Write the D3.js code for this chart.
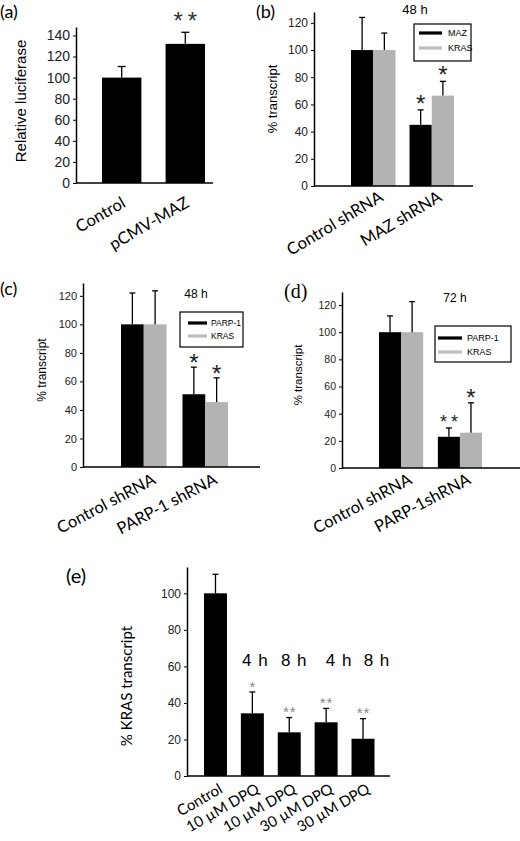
<!DOCTYPE html>
<html>
<head>
<meta charset="utf-8">
<script src="https://cdn.jsdelivr.net/npm/d3@7"></script>
<style>
body{margin:0;background:#fff;}
svg{display:block;}
</style>
</head>
<body>
<script>
// ---------------- DATA ----------------
const panelACategories = ["Control", "pCMV-MAZ"];
const panelAValues = [100, 132];
const panelAErrors = [10.5, 11];
const panelASig = ["", "**"];
const panelATicks = [0, 20, 40, 60, 80, 100, 120, 140];

const panelBCategories = ["Control shRNA", "MAZ shRNA"];
const panelBSeriesNames = ["MAZ", "KRAS"];
const panelBMAZ = [100, 45];
const panelBMAZErr = [24, 11];
const panelBMAZSig = ["", "*"];
const panelBKRAS = [100, 66.5];
const panelBKRASErr = [12.5, 10.5];
const panelBKRASSig = ["", "*"];

const panelCCategories = ["Control shRNA", "PARP-1 shRNA"];
const panelCSeriesNames = ["PARP-1", "KRAS"];
const panelCPARP = [100, 51];
const panelCPARPErr = [22, 19];
const panelCPARPSig = ["", "*"];
const panelCKRAS = [100, 45.5];
const panelCKRASErr = [23.5, 17];
const panelCKRASSig = ["", "*"];

const panelDCategories = ["Control shRNA", "PARP-1shRNA"];
const panelDSeriesNames = ["PARP-1", "KRAS"];
const panelDPARP = [100, 23];
const panelDPARPErr = [12, 6.5];
const panelDPARPSig = ["", "**"];
const panelDKRAS = [100, 26];
const panelDKRASErr = [22.5, 22];
const panelDKRASSig = ["", "*"];

const bcdTicks = [0, 20, 40, 60, 80, 100, 120];

const panelECategories = ["Control", "10 \u00b5M DPQ", "10 \u00b5M DPQ", "30 \u00b5M DPQ", "30 \u00b5M DPQ"];
const panelEValues = [100, 34.3, 23.9, 29.4, 20.4];
const panelEErrors = [10.4, 11.7, 8.1, 7.6, 11];
const panelESig = ["", "*", "**", "**", "**"];
const panelETimes = ["", "4 h", "8 h", "4 h", "8 h"];
const panelETicks = [0, 20, 40, 60, 80, 100];

// ---------------- DRAW ----------------
const svg = d3.select("body").append("svg").attr("width", 520).attr("height", 841);
const ARIAL = "'Liberation Sans', Arial, sans-serif";
const CALIBRI = "Lato, 'Open Sans', sans-serif";
const BLACK = "#000";
const GRAY = "#b3b3b3";

function drawPanel(o) {
  const g = svg.append("g");
  const y = d3.scaleLinear().domain([0, o.yMax]).range(o.yRange);
  const x = d3.scaleBand().domain(d3.range(o.cats.length)).range(o.band)
    .paddingInner(o.padInner).paddingOuter(0);
  const inner = d3.scaleBand().domain(d3.range(o.series.length)).range([0, x.bandwidth()]).padding(0);

  o.series.forEach((s, si) => {
    const sg = g.append("g");
    sg.selectAll("rect").data(s.values).join("rect")
      .attr("x", (d, i) => x(i) + inner(si))
      .attr("y", d => y(d))
      .attr("width", inner.bandwidth())
      .attr("height", d => y(0) - y(d))
      .attr("fill", s.color);
    const eg = g.append("g").attr("stroke", "#000").attr("stroke-width", 1.3);
    s.values.forEach((v, i) => {
      const cx = x(i) + inner(si) + inner.bandwidth() / 2;
      eg.append("line").attr("x1", cx).attr("x2", cx).attr("y1", y(v)).attr("y2", y(v + s.errors[i]));
      eg.append("line").attr("x1", cx - o.capW).attr("x2", cx + o.capW)
        .attr("y1", y(v + s.errors[i])).attr("y2", y(v + s.errors[i]));
    });
    s.values.forEach((v, i) => {
      const sig = s.sig[i];
      if (!sig) return;
      const cx = x(i) + inner(si) + inner.bandwidth() / 2;
      const fs = sig.length > 1 ? o.sigFont2 : o.sigFont1;
      g.append("text").text(sig)
        .attr("x", cx + (sig.length > 1 ? o.sigSpace / 2 : 0))
        .attr("y", y(v + s.errors[i]) - o.sigGap + 0.57 * fs)
        .attr("text-anchor", "middle")
        .attr("font-family", ARIAL)
        .attr("font-size", fs)
        .attr("letter-spacing", sig.length > 1 ? o.sigSpace : 0)
        .attr("fill", o.sigColor);
    });
  });

  const ax = g.append("g").attr("transform", `translate(${o.xAxis[0]},0)`)
    .call(d3.axisLeft(y).tickValues(o.ticks).tickSize(3).tickSizeOuter(0).tickPadding(3));
  ax.select(".domain").attr("stroke", "#000").attr("stroke-width", 1.5);
  ax.selectAll(".tick line").attr("stroke", "#000").attr("stroke-width", 1);
  ax.selectAll(".tick text").attr("font-family", ARIAL).attr("font-size", o.tickFont).attr("fill", "#222");

  g.append("line").attr("x1", o.xAxis[0]).attr("x2", o.xAxis[1])
    .attr("y1", y(0)).attr("y2", y(0)).attr("stroke", "#000").attr("stroke-width", 1.5);

  o.cats.forEach((c, i) => {
    const cx = x(i) + x.bandwidth() / 2 + o.lblDx;
    const cy = y(0) + o.lblDy;
    g.append("text").text(c)
      .attr("transform", `translate(${cx},${cy}) rotate(${o.lblRot})`)
      .attr("text-anchor", "end")
      .attr("font-family", CALIBRI)
      .attr("font-size", o.lblFont)
      .attr("fill", "#000");
  });

  g.append("text").text(o.ytitle)
    .attr("transform", `translate(${o.ytitlePos[0]},${o.ytitlePos[1]}) rotate(-90)`)
    .attr("text-anchor", "middle")
    .attr("font-family", o.ytitleFamily || ARIAL)
    .attr("font-size", o.ytitleFont)
    .attr("fill", "#000");

  g.append("text").text(o.letter)
    .attr("x", o.letterPos[0]).attr("y", o.letterPos[1])
    .attr("font-family", o.letterFamily || CALIBRI)
    .attr("font-size", o.letterFont)
    .attr("fill", "#000");

  if (o.time) {
    g.append("text").text(o.time)
      .attr("x", o.timePos[0]).attr("y", o.timePos[1])
      .attr("text-anchor", "middle")
      .attr("font-family", ARIAL).attr("font-size", o.timeFont).attr("fill", "#000");
  }

  if (o.legend) {
    const L = o.legend;
    const lg = g.append("g");
    lg.append("rect").attr("x", L.box[0]).attr("y", L.box[1]).attr("width", L.box[2]).attr("height", L.box[3])
      .attr("fill", "#fff").attr("stroke", "#000").attr("stroke-width", 1.2);
    o.series.forEach((s, si) => {
      const ly = L.rows[si];
      lg.append("line").attr("x1", L.lineX[0]).attr("x2", L.lineX[1]).attr("y1", ly).attr("y2", ly)
        .attr("stroke", s.color === BLACK ? "#000" : "#bdbdbd").attr("stroke-width", 3.2);
      lg.append("text").text(s.name).attr("x", L.textX).attr("y", ly + L.font * 0.36)
        .attr("font-family", ARIAL).attr("font-size", L.font).attr("fill", "#000");
    });
  }
  return {g, x, y};
}

// Panel (a)
drawPanel({
  cats: panelACategories,
  series: [{name: "", values: panelAValues, errors: panelAErrors, sig: panelASig, color: BLACK}],
  yMax: 148, yRange: [183, 27], xAxis: [76, 213], band: [102, 205], padInner: 0.38,
  ticks: panelATicks, tickFont: 14, capW: 4,
  sigFont1: 24, sigFont2: 24, sigSpace: 5, sigGap: 17, sigColor: "#333",
  lblDx: 5, lblDy: 23, lblRot: -30, lblFont: 16.5,
  ytitle: "Relative luciferase", ytitlePos: [26, 101], ytitleFont: 15,
  letter: "(a)", letterPos: [0, 18], letterFont: 18
});

// Panel (b)
drawPanel({
  cats: panelBCategories,
  series: [
    {name: panelBSeriesNames[0], values: panelBMAZ, errors: panelBMAZErr, sig: panelBMAZSig, color: BLACK},
    {name: panelBSeriesNames[1], values: panelBKRAS, errors: panelBKRASErr, sig: panelBKRASSig, color: GRAY}
  ],
  yMax: 128, yRange: [186, 12], xAxis: [314, 473], band: [351, 454], padInner: 0.24,
  ticks: bcdTicks, tickFont: 12, capW: 3,
  sigFont1: 24, sigFont2: 20, sigSpace: 3, sigGap: 12, sigColor: "#222",
  lblDx: 11, lblDy: 14, lblRot: -31, lblFont: 16.5,
  ytitle: "% transcript", ytitlePos: [277, 99], ytitleFont: 13,
  letter: "(b)", letterPos: [256, 18], letterFont: 18,
  time: "48 h", timePos: [415, 14], timeFont: 13,
  legend: {box: [414, 24, 57, 37], rows: [33, 48], lineX: [419, 442], textX: 448, font: 9}
});

// Panel (c)
drawPanel({
  cats: panelCCategories,
  series: [
    {name: panelCSeriesNames[0], values: panelCPARP, errors: panelCPARPErr, sig: panelCPARPSig, color: BLACK},
    {name: panelCSeriesNames[1], values: panelCKRAS, errors: panelCKRASErr, sig: panelCKRASSig, color: GRAY}
  ],
  yMax: 129, yRange: [467, 283], xAxis: [83, 260], band: [121, 228], padInner: 0.26,
  ticks: bcdTicks, tickFont: 11, capW: 3,
  sigFont1: 24, sigFont2: 20, sigSpace: 3, sigGap: 10, sigColor: "#222",
  lblDx: 13, lblDy: 16, lblRot: -28, lblFont: 16.5,
  ytitle: "% transcript", ytitlePos: [46, 370], ytitleFont: 12,
  letter: "(c)", letterPos: [0, 295], letterFont: 18,
  time: "48 h", timePos: [196, 298], timeFont: 12,
  legend: {box: [180, 312, 63, 35], rows: [323, 336], lineX: [188, 207], textX: 211, font: 8.5}
});

// Panel (d)
drawPanel({
  cats: panelDCategories,
  series: [
    {name: panelDSeriesNames[0], values: panelDPARP, errors: panelDPARPErr, sig: panelDPARPSig, color: BLACK},
    {name: panelDSeriesNames[1], values: panelDKRAS, errors: panelDKRASErr, sig: panelDKRASSig, color: GRAY}
  ],
  yMax: 129.6, yRange: [468, 292], xAxis: [342, 520], band: [379, 482], padInner: 0.25,
  ticks: bcdTicks, tickFont: 10.5, capW: 3,
  sigFont1: 24, sigFont2: 18, sigSpace: 4, sigGap: 10, sigColor: "#222",
  lblDx: 12, lblDy: 15, lblRot: -28, lblFont: 16.5,
  ytitle: "% transcript", ytitlePos: [302, 375], ytitleFont: 11.5,
  letter: "(d)", letterPos: [284, 298], letterFont: 20, letterFamily: "'Liberation Serif', 'Times New Roman', serif",
  time: "72 h", timePos: [455, 302], timeFont: 12,
  legend: {box: [435, 326, 76, 36], rows: [338, 352], lineX: [438, 462], textX: 467, font: 9}
});

// Panel (e)
const pe = drawPanel({
  cats: panelECategories,
  series: [{name: "", values: panelEValues, errors: panelEErrors, sig: panelESig, color: BLACK}],
  yMax: 114.4, yRange: [776, 567], xAxis: [187, 390], band: [204, 374.5], padInner: 0.377,
  ticks: panelETicks, tickFont: 12, capW: 3,
  sigFont1: 15, sigFont2: 15, sigSpace: 1, sigGap: 9, sigColor: "#888",
  lblDx: 8, lblDy: 16, lblRot: -30, lblFont: 15,
  ytitle: "% KRAS transcript", ytitlePos: [132, 686], ytitleFont: 15, ytitleFamily: CALIBRI,
  letter: "(e)", letterPos: [66, 583], letterFont: 20
});
const timeOffsets = [0, 3, 5, 13, 14];
pe.g.selectAll("text.time").data(panelETimes).join("text").attr("class", "time")
  .text(d => d)
  .attr("x", (d, i) => pe.x(i) + pe.x.bandwidth() / 2 + timeOffsets[i])
  .attr("y", 666)
  .attr("text-anchor", "middle")
  .attr("font-family", ARIAL).attr("font-size", 17).attr("letter-spacing", 1).attr("fill", "#000");
</script>
</body>
</html>
